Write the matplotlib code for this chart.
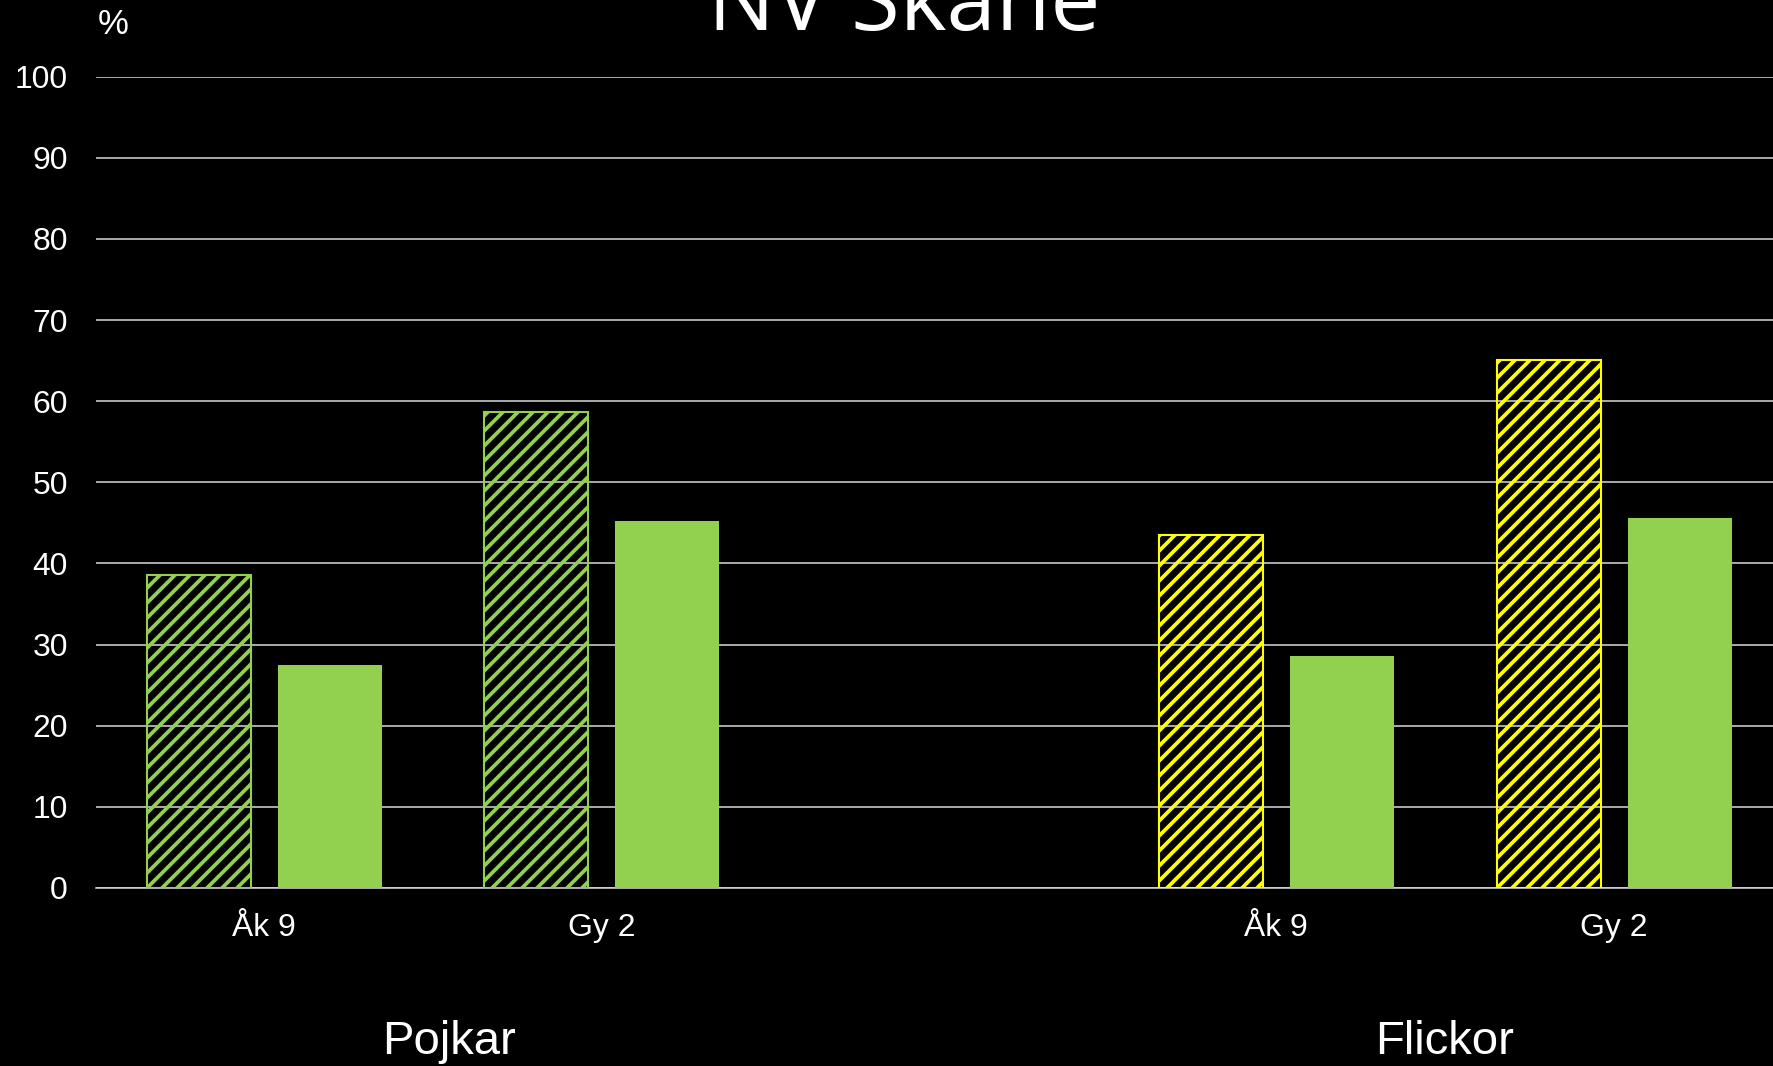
import matplotlib
matplotlib.use("Agg")
import matplotlib.pyplot as plt

categories = ["Åk 9", "Gy 2", "Åk 9", "Gy 2"]
groups = ["Pojkar", "Flickor"]
hatched_values = [38.6, 58.7, 43.5, 65.1]
solid_values = [27.5, 45.2, 28.6, 45.6]
yticks = [0, 10, 20, 30, 40, 50, 60, 70, 80, 90, 100]

positions = [0, 1, 3, 4]
hatch_colors = ["#92D050", "#92D050", "#FFFF00", "#FFFF00"]
solid_color = "#92D050"

DPI = 90
S = 100 / DPI  # keep pixel sizes as if at 100 dpi

plt.rcParams['hatch.linewidth'] = 3.0
plt.rcParams['font.family'] = ['Liberation Sans', 'DejaVu Sans']

fig = plt.figure(figsize=(1773 / DPI, 1066 / DPI), dpi=DPI, facecolor="black")
ax = fig.add_axes([0.054, 0.167, 0.946, 0.761])
ax.set_facecolor("black")

w = 0.308
for p, v, c in zip(positions, hatched_values, hatch_colors):
    ax.bar(p - 0.193, v, width=w, facecolor="none", edgecolor=c, hatch="//",
           linewidth=0, zorder=3)
    ax.bar(p - 0.193, v, width=w, facecolor="none", edgecolor=c,
           linewidth=1.5 * S, zorder=4)
for p, v in zip(positions, solid_values):
    ax.bar(p + 0.196, v, width=w, color=solid_color, linewidth=0, zorder=3)

ax.set_xlim(-0.498, 4.472)
ax.set_ylim(0, 100)
ax.set_yticks(yticks)
ax.set_yticklabels([str(t) for t in yticks], color="white", fontsize=23 * S)
ax.set_xticks(positions)
ax.set_xticklabels(categories, color="white", fontsize=23 * S)
ax.tick_params(axis="y", length=0, pad=20 * S)
ax.tick_params(axis="x", length=0, pad=18 * S)
ax.grid(axis="y", color="#D9D9D9", linewidth=1.1 * S, zorder=1)
ax.set_axisbelow(True)
for s in ["top", "right", "left"]:
    ax.spines[s].set_visible(False)
ax.spines["bottom"].set_color("#D9D9D9")
ax.spines["bottom"].set_linewidth(1.1 * S)

ax.text(0.55, -0.205, groups[0], transform=ax.get_xaxis_transform(),
        ha="center", va="baseline", color="white", fontsize=34 * S)
ax.text(3.50, -0.205, groups[1], transform=ax.get_xaxis_transform(),
        ha="center", va="baseline", color="white", fontsize=34 * S)

fig.text(0.055, 0.968, "%", color="white", fontsize=25 * S, ha="left", va="baseline")
fig.text(0.51, 0.972, "NV Skåne", color="white", fontsize=64 * S, ha="center",
         va="baseline", family=["Open Sans", "DejaVu Sans"])

fig.savefig("out.png", dpi=DPI, facecolor="black")
